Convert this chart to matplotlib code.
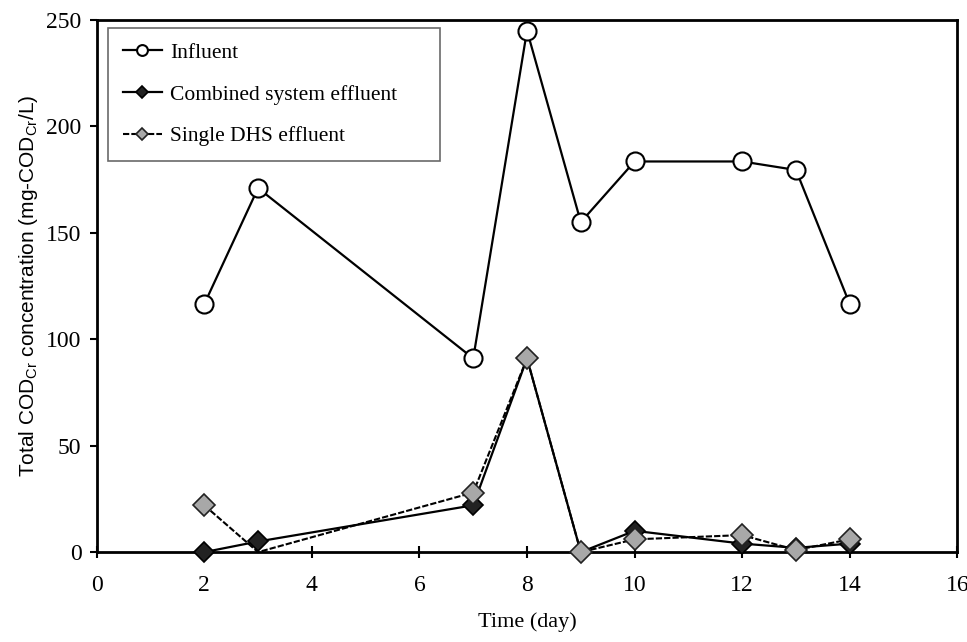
import numpy as np
import matplotlib.pyplot as plt

days = [2, 3, 7, 8, 9, 10, 12, 13, 14]
influent = [116.5, 171, 91, 245, 155, 183.5, 183.5, 179.5, 116.5]
combined = [0, 5, 22, 91, 0, 10, 4, 2, 4]
single_dhs = [22, 0, 28, 91, 0, 6, 8, 1, 6]

plt.rcParams['font.family'] = ['Liberation Serif', 'DejaVu Serif']

fig = plt.figure(figsize=(9.67, 6.42), dpi=100)
ax = fig.add_axes([0.100, 0.140, 0.890, 0.829])

ax.plot(days, influent, color='black', lw=1.6, marker='o', ms=13,
        mfc='white', mec='black', mew=1.5, label='Influent', zorder=3)
ax.plot(days, combined, color='black', lw=1.6, marker='D', ms=10,
        mfc='#222222', mec='black', mew=1.2, label='Combined system effluent',
        zorder=4, clip_on=False)
ax.plot(days, single_dhs, color='black', lw=1.5, ls=(0, (3, 1)), marker='D', ms=11,
        mfc='#a8a8a8', mec='#222222', mew=1.2, label='Single DHS effluent',
        markevery=[0, 2, 3, 4, 5, 6, 7, 8], zorder=5, clip_on=False)

ax.set_xlim(0, 16)
ax.set_ylim(0, 250)
ax.set_xticks(np.arange(0, 17, 2))
ax.set_yticks(np.arange(0, 251, 50))
ax.tick_params(axis='x', labelsize=17, direction='inout', length=9, width=1.5, pad=12)
ax.tick_params(axis='y', labelsize=17, direction='out', length=5, width=1.5, pad=6)
for s in ax.spines.values():
    s.set_linewidth(2)

ax.set_xlabel('Time (day)', fontsize=16, labelpad=12)
ax.set_ylabel('Total COD$_{\\mathregular{Cr}}$ concentration (mg-COD$_{\\mathregular{Cr}}$/L)',
              fontsize=15, family=['Liberation Sans'], labelpad=4)

# legend box stretched to a fixed width in the upper left corner
leg = ax.legend(loc='upper left', fontsize=15.5, frameon=True, fancybox=False,
                edgecolor='black', borderpad=0.7, labelspacing=1.0,
                handlelength=1.8, handletextpad=0.4, markerscale=0.6,
                borderaxespad=0, mode='expand',
                bbox_to_anchor=(0.0128, 0.7, 0.386, 0.285))
leg.get_frame().set_linewidth(1.2)
leg.get_frame().set_edgecolor('#444444')

fig.savefig('out.png', dpi=100)
